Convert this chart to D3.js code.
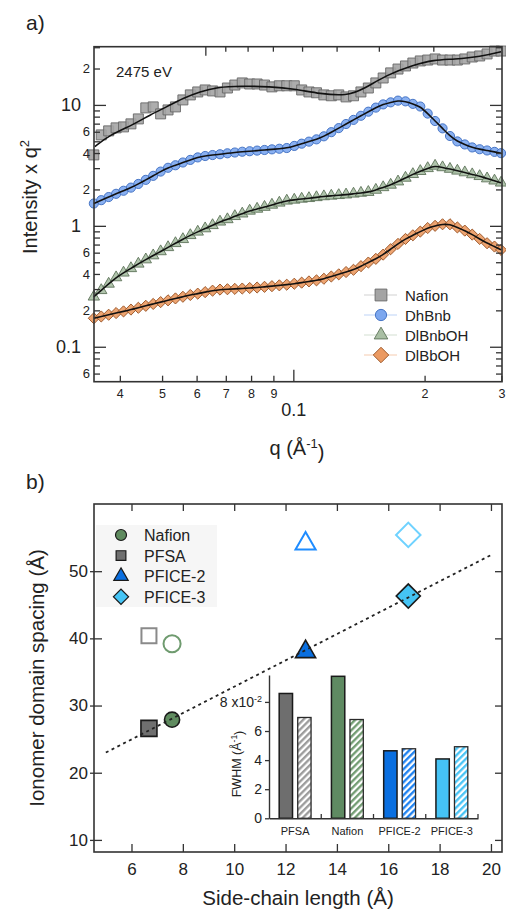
<!DOCTYPE html>
<html>
<head>
<meta charset="utf-8">
<script src="https://cdn.jsdelivr.net/npm/d3@7"></script>
<style>
body { margin: 0; background: #fff; }
svg text { font-family: "Liberation Sans", Arial, sans-serif; fill: #222; }
</style>
</head>
<body>
<svg id="chart" width="506" height="912"></svg>
<script>
// ---------- panel a data ----------
var qGrid = [0.03487,0.03626,0.03771,0.03922,0.04079,0.04242,0.04411,0.04588,0.04771,0.04962,
  0.05160,0.05366,0.05581,0.05804,0.06036,0.06277,0.06528,0.06789,0.07060,0.07342,
  0.07636,0.07941,0.08258,0.08588,0.08931,0.09288,0.09659,0.1005,0.1045,0.1086,
  0.1130,0.1175,0.1222,0.1271,0.1321,0.1374,0.1429,0.1486,0.1546,0.1607,
  0.1672,0.1738,0.1808,0.1880,0.1955,0.2033,0.2114,0.2199,0.2287,0.2378,
  0.2473,0.2572,0.2675,0.2782,0.2893,0.2995];
var nafionI = [3.86,5.65,6.10,6.46,6.58,6.97,7.66,9.45,9.63,8.43,
  9.09,9.63,11.0,12.1,12.8,13.3,13.05,12.8,13.8,14.6,
  15.2,14.9,14.9,14.6,14.1,14.4,14.4,14.4,13.3,12.8,
  12.6,12.1,11.9,12.1,11.65,11.9,12.8,13.8,15.2,16.7,
  18.4,19.8,21.0,22.2,23.1,23.5,24.0,23.5,23.5,23.5,
  24.0,24.9,25.4,26.4,27.9,27.9];
var dhbnbI = [1.53,1.63,1.73,1.84,1.95,2.07,2.22,2.40,2.59,2.81,
  3.02,3.17,3.34,3.51,3.68,3.78,3.85,3.91,3.98,4.04,
  4.10,4.14,4.19,4.24,4.29,4.34,4.40,4.58,4.78,4.97,
  5.19,5.50,5.95,6.43,6.95,7.52,8.13,8.79,9.50,10.1,
  10.5,10.85,10.7,10.2,9.70,8.48,7.36,6.40,5.53,4.99,
  4.71,4.45,4.30,4.20,4.09,3.99];
var dlbnbohI = [0.259,0.293,0.331,0.374,0.409,0.445,0.485,0.526,0.568,0.614,
  0.664,0.717,0.774,0.835,0.892,0.950,1.01,1.08,1.13,1.20,
  1.26,1.33,1.38,1.43,1.49,1.55,1.61,1.64,1.67,1.69,
  1.72,1.75,1.77,1.79,1.81,1.84,1.87,1.90,1.98,2.08,
  2.18,2.32,2.49,2.67,2.83,2.99,3.13,3.04,2.95,2.85,
  2.76,2.66,2.57,2.46,2.36,2.27];
var dlbbohI = [0.172,0.178,0.184,0.190,0.196,0.203,0.210,0.218,0.226,0.234,
  0.242,0.251,0.259,0.268,0.275,0.283,0.291,0.297,0.299,0.301,
  0.303,0.306,0.309,0.313,0.317,0.322,0.326,0.332,0.339,0.347,
  0.354,0.365,0.381,0.397,0.415,0.433,0.464,0.497,0.533,0.578,
  0.641,0.709,0.779,0.835,0.896,0.959,1.00,1.03,1.03,0.970,
  0.913,0.846,0.779,0.718,0.674,0.633];
// fitted curve drawn through the Nafion squares
var nafionFitQ = [0.03506,0.03796,0.04288,0.04691,0.05133,0.05587,0.06111,0.06687,0.07556,0.08854,
  0.1,0.1154,0.1324,0.1448,0.1636,0.1888,0.2098,0.2332,0.2691,0.2995];
var nafionFitI = [4.52,5.65,6.84,8.27,9.68,11.36,12.88,14.01,14.36,14.14,
  13.61,12.33,11.87,13.48,17.70,21.41,23.55,23.86,25.07,27.57];

var yTickVals = [0.06,0.07,0.08,0.09,0.2,0.3,0.4,0.5,0.6,0.7,0.8,0.9,2,3,4,5,6,7,8,9,20,30];
var yMajorVals = [0.1,1,10];
var yLabelVals = [0.06,0.1,0.2,0.4,0.6,1,2,4,6,10,20];
var yLabelText = ["6","0.1","2","4","6","1","2","4","6","10","2"];
var xTickVals = [0.04,0.05,0.06,0.07,0.08,0.09,0.2,0.3];
var xMajorVals = [0.1];
var xLabelVals = [0.04,0.05,0.06,0.07,0.08,0.09,0.1,0.2,0.3];
var xLabelText = ["4","5","6","7","8","9","0.1","2","3"];
var dSpacingTicks = [90,80,70,60,50,40,30];   // top axis, d = 2*pi/q (Å)
var dSpacingMajor = [100];

// ---------- panel b data ----------
var polymerNames = ["Nafion","PFSA","PFICE-2","PFICE-3"];
var sideChainLength = [7.58,6.68,12.78,16.78];
var spacingFilled = [27.9,26.6,38.0,46.3];
var spacingOpen = [39.2,40.4,54.1,55.4];
var fitX = [5,20];
var fitY = [23.0,52.4];
var xBTicks = [6,8,10,12,14,16,18,20];
var yBTicks = [10,20,30,40,50];
var insetCats = ["PFSA","Nafion","PFICE-2","PFICE-3"];
var fwhmSolid = [0.0858,0.0976,0.0464,0.0408];
var fwhmHatched = [0.0693,0.0679,0.0478,0.0492];
var fwhmTicks = [0,0.02,0.04,0.06,0.08];

// ---------- styles ----------
var FONT = '"Liberation Sans", Arial, sans-serif';
var ink = "#333";
var polymerStyle = {
  "Nafion":  {shape: d3.symbolCircle,   rot: 0,  fill: "#5f8b5f", open: "#6f9b6f", bar: "#5f8a62", hatch: "#6f9a6f"},
  "PFSA":    {shape: d3.symbolSquare,   rot: 0,  fill: "#6f6f6f", open: "#8a8a8a", bar: "#6e6e6e", hatch: "#9a9a9a"},
  "PFICE-2": {shape: d3.symbolTriangle, rot: 0,  fill: "#0a6fe0", open: "#1e8cff", bar: "#0a6fe0", hatch: "#1a7ff0"},
  "PFICE-3": {shape: d3.symbolSquare,   rot: 45, fill: "#45c4f5", open: "#6fd2ff", bar: "#45c3f5", hatch: "#45c3f5"}
};

var svg = d3.select("#chart");

function addAxis(parent, axis, tx, ty, fs, keepDomain) {
  var g = parent.append("g")
    .attr("transform", "translate(" + tx + "," + ty + ")")
    .call(axis)
    .attr("font-family", FONT)
    .attr("font-size", fs || 12);
  if (!keepDomain) g.select(".domain").remove();
  else g.select(".domain").attr("stroke", ink).attr("stroke-width", 1.4);
  g.selectAll(".tick line").attr("stroke", ink).attr("stroke-width", 1.3);
  g.selectAll(".tick text").attr("fill", "#222");
  return g;
}

// ================= panel a =================
var A = {l: 94, r: 502, t: 46.7, b: 381.7};
var xA = d3.scaleLog().domain([0.0349, 0.301]).range([A.l, A.r]);
var yA = d3.scaleLog().domain([0.0514, 30.3]).range([A.b, A.t]);
var gA = svg.append("g");

var seriesA = [
  {name: "Nafion",  values: nafionI,  shape: d3.symbolSquare,   size: 100, rot: 0,  fill: "#a4a4a4", stroke: "#686868", leg: 140},
  {name: "DhBnb",   values: dhbnbI,   shape: d3.symbolCircle,   size: 66,  rot: 0,  fill: "#7ca7ef", stroke: "#3c6cc0", leg: 100},
  {name: "DlBnbOH", values: dlbnbohI, shape: d3.symbolTriangle, size: 56,  rot: 0,  fill: "#a9bfa4", stroke: "#5e7359", leg: 80},
  {name: "DlBbOH",  values: dlbbohI,  shape: d3.symbolSquare,   size: 62,  rot: 45, fill: "#eb9a62", stroke: "#9a5527", leg: 120}
];

var lineA = d3.line().x(function(d){ return xA(d[0]); }).y(function(d){ return yA(d[1]); }).curve(d3.curveBasis);

seriesA.forEach(function(s) {
  gA.append("g").selectAll("path")
    .data(d3.zip(qGrid, s.values))
    .join("path")
    .attr("transform", function(d){ return "translate(" + xA(d[0]) + "," + yA(d[1]) + ") rotate(" + s.rot + ")"; })
    .attr("d", d3.symbol(s.shape, s.size))
    .attr("fill", s.fill)
    .attr("fill-opacity", 0.9)
    .attr("stroke", s.stroke)
    .attr("stroke-width", 0.9);
  var fit = s.name === "Nafion" ? d3.zip(nafionFitQ, nafionFitI) : d3.zip(qGrid, s.values);
  gA.append("path")
    .attr("d", lineA(fit))
    .attr("fill", "none")
    .attr("stroke", "#111")
    .attr("stroke-width", 1.6);
});

// ticks, all pointing inward
addAxis(gA, d3.axisLeft(yA).tickValues(yTickVals).tickSize(-6).tickFormat(""), A.l, 0);
addAxis(gA, d3.axisLeft(yA).tickValues(yMajorVals).tickSize(-12).tickFormat(""), A.l, 0);
addAxis(gA, d3.axisRight(yA).tickValues(yTickVals).tickSize(-6).tickFormat(""), A.r, 0);
addAxis(gA, d3.axisRight(yA).tickValues(yMajorVals).tickSize(-12).tickFormat(""), A.r, 0);
var yLab = addAxis(gA, d3.axisLeft(yA).tickValues(yLabelVals).tickSize(0).tickPadding(4)
  .tickFormat(function(d, i){ return yLabelText[i]; }), A.l, 0);
yLab.selectAll(".tick text").each(function(d) {
  var big = yMajorVals.indexOf(d) >= 0;
  d3.select(this).attr("font-size", big ? 18 : 13).attr("x", big ? -13 : -4);
});

addAxis(gA, d3.axisBottom(xA).tickValues(xTickVals).tickSize(-6).tickFormat(""), 0, A.b);
addAxis(gA, d3.axisBottom(xA).tickValues(xMajorVals).tickSize(-12).tickFormat(""), 0, A.b);
var xLab = addAxis(gA, d3.axisBottom(xA).tickValues(xLabelVals).tickSize(0).tickPadding(7)
  .tickFormat(function(d, i){ return xLabelText[i]; }), 0, A.b, 12.5);
xLab.selectAll(".tick text").each(function(d) {
  if (xMajorVals.indexOf(d) >= 0) d3.select(this).attr("font-size", 18).attr("y", 22);
});

addAxis(gA, d3.axisTop(xA).tickValues(dSpacingTicks.map(function(d){ return 2 * Math.PI / d; })).tickSize(-5).tickFormat(""), 0, A.t);
addAxis(gA, d3.axisTop(xA).tickValues(dSpacingMajor.map(function(d){ return 2 * Math.PI / d; })).tickSize(-9).tickFormat(""), 0, A.t);

gA.append("rect")
  .attr("x", A.l).attr("y", A.t)
  .attr("width", A.r - A.l).attr("height", A.b - A.t)
  .attr("fill", "none").attr("stroke", ink).attr("stroke-width", 1.6);

gA.append("text").attr("x", 116).attr("y", 77).attr("font-size", 15).text("2475 eV");

// legend a
var legA = gA.append("g");
seriesA.forEach(function(s, i) {
  var y = 295 + i * 20;
  legA.append("line").attr("x1", 364).attr("x2", 397).attr("y1", y).attr("y2", y)
    .attr("stroke", s.fill).attr("stroke-opacity", 0.5).attr("stroke-width", 1);
  legA.append("path")
    .attr("transform", "translate(381," + y + ") rotate(" + s.rot + ")")
    .attr("d", d3.symbol(s.shape, s.leg))
    .attr("fill", s.fill).attr("stroke", s.stroke).attr("stroke-width", 0.9);
  legA.append("text").attr("x", 405).attr("y", y + 5.5).attr("font-size", 15).attr("fill", "#333").text(s.name);
});

svg.append("text").attr("x", 26).attr("y", 30).attr("font-size", 21).attr("font-family", '"Open Sans", sans-serif').text("a)");

svg.append("text")
  .attr("transform", "translate(36.5,197) rotate(-90)")
  .attr("text-anchor", "middle").attr("font-size", 20)
  .text("Intensity x q")
  .append("tspan").attr("dy", "-0.55em").attr("font-size", 13).text("2");

var qTitle = svg.append("text").attr("x", 297).attr("y", 455).attr("text-anchor", "middle").attr("font-size", 20);
qTitle.append("tspan").text("q (Å");
qTitle.append("tspan").attr("dy", "-0.55em").attr("font-size", 13).text("-1");
qTitle.append("tspan").attr("dy", "0.55em").text(")");

// ================= panel b =================
var B = {l: 94, r: 502, t: 504, b: 852};
var xB = d3.scaleLinear().domain([4.54, 20.43]).range([B.l, B.r]);
var yB = d3.scaleLinear().domain([8.2, 60]).range([B.b, B.t]);
var gB = svg.append("g");

gB.append("rect").attr("x", 96).attr("y", 525).attr("width", 121).attr("height", 82).attr("fill", "#f6f6f6");

addAxis(gB, d3.axisBottom(xB).tickValues(xBTicks).tickSize(-8).tickPadding(11).tickFormat(d3.format("d")), 0, B.b, 17);
addAxis(gB, d3.axisTop(xB).tickValues(xBTicks).tickSize(-7).tickFormat(""), 0, B.t);
addAxis(gB, d3.axisLeft(yB).tickValues(yBTicks).tickSize(4).tickPadding(2).tickFormat(d3.format("d")), B.l, 0, 17);
addAxis(gB, d3.axisLeft(yB).tickValues(yBTicks).tickSize(-8).tickFormat(""), B.l, 0);
addAxis(gB, d3.axisRight(yB).tickValues(yBTicks).tickSize(-7).tickFormat(""), B.r, 0);

gB.append("rect")
  .attr("x", B.l).attr("y", B.t)
  .attr("width", B.r - B.l).attr("height", B.b - B.t)
  .attr("fill", "none").attr("stroke", ink).attr("stroke-width", 1.6);

var sizeFilled = {"Nafion": 180, "PFSA": 256, "PFICE-2": 175, "PFICE-3": 290};
var sizeOpen = {"Nafion": 230, "PFSA": 225, "PFICE-2": 175, "PFICE-3": 300};
var sizeLeg = {"Nafion": 95, "PFSA": 95, "PFICE-2": 90, "PFICE-3": 115};

// open markers
gB.append("g").selectAll("path")
  .data(polymerNames)
  .join("path")
  .attr("transform", function(d, i){ return "translate(" + xB(sideChainLength[i]) + "," + yB(spacingOpen[i]) + ") rotate(" + polymerStyle[d].rot + ")"; })
  .attr("d", function(d){ return d3.symbol(polymerStyle[d].shape, sizeOpen[d])(); })
  .attr("fill", "none")
  .attr("stroke", function(d){ return polymerStyle[d].open; })
  .attr("stroke-width", 2);

// filled markers
gB.append("g").selectAll("path")
  .data(polymerNames)
  .join("path")
  .attr("transform", function(d, i){ return "translate(" + xB(sideChainLength[i]) + "," + yB(spacingFilled[i]) + ") rotate(" + polymerStyle[d].rot + ")"; })
  .attr("d", function(d){ return d3.symbol(polymerStyle[d].shape, sizeFilled[d])(); })
  .attr("fill", function(d){ return polymerStyle[d].fill; })
  .attr("stroke", "#1a1a1a")
  .attr("stroke-width", 1.6);

// linear fit, dotted
gB.append("path")
  .attr("d", d3.line().x(function(d){ return xB(d[0]); }).y(function(d){ return yB(d[1]); })(d3.zip(fitX, fitY)))
  .attr("fill", "none").attr("stroke", "#222").attr("stroke-width", 1.8).attr("stroke-dasharray", "3,3.5");

// legend b
polymerNames.forEach(function(d, i) {
  var y = 535 + i * 20.6;
  gB.append("path")
    .attr("transform", "translate(121," + y + ") rotate(" + polymerStyle[d].rot + ")")
    .attr("d", d3.symbol(polymerStyle[d].shape, sizeLeg[d]))
    .attr("fill", polymerStyle[d].fill).attr("stroke", "#1a1a1a").attr("stroke-width", 1.2);
  gB.append("text").attr("x", 144).attr("y", y + 6).attr("font-size", 16).text(d);
});

svg.append("text").attr("x", 26).attr("y", 489).attr("font-size", 21).attr("font-family", '"Open Sans", sans-serif').text("b)");

svg.append("text")
  .attr("transform", "translate(44,678) rotate(-90)")
  .attr("text-anchor", "middle").attr("font-size", 20.5)
  .text("Ionomer domain spacing (Å)");
svg.append("text").attr("x", 298).attr("y", 905).attr("text-anchor", "middle").attr("font-size", 20.5)
  .text("Side-chain length (Å)");

// ---------- inset: FWHM bars ----------
var gI = svg.append("g");
var defs = svg.append("defs");
insetCats.forEach(function(c, i) {
  var p = defs.append("pattern").attr("id", "hatch" + i)
    .attr("patternUnits", "userSpaceOnUse").attr("width", 4.6).attr("height", 4.6)
    .attr("patternTransform", "rotate(45)");
  p.append("rect").attr("width", 4.6).attr("height", 4.6).attr("fill", "#fff");
  p.append("line").attr("x1", 1.2).attr("x2", 1.2).attr("y1", 0).attr("y2", 4.6)
    .attr("stroke", polymerStyle[c].hatch).attr("stroke-width", 2.3);
});

var xI = d3.scaleBand().domain(insetCats).range([269, 478]);
var xSub = d3.scaleBand().domain(["solid", "hatched"]).range([0, xI.bandwidth()]).paddingInner(0.28).paddingOuter(0.55);
var yI = d3.scaleLinear().domain([0, 0.0985]).range([818.3, 675]);

gI.append("g").selectAll("rect")
  .data(insetCats)
  .join("rect")
  .attr("x", function(c){ return xI(c) + xSub("solid"); })
  .attr("y", function(c, i){ return yI(fwhmSolid[i]); })
  .attr("width", xSub.bandwidth())
  .attr("height", function(c, i){ return yI(0) - yI(fwhmSolid[i]); })
  .attr("fill", function(c){ return polymerStyle[c].bar; })
  .attr("stroke", "#1a1a1a").attr("stroke-width", 1.5);

gI.append("g").selectAll("rect")
  .data(insetCats)
  .join("rect")
  .attr("x", function(c){ return xI(c) + xSub("hatched"); })
  .attr("y", function(c, i){ return yI(fwhmHatched[i]); })
  .attr("width", xSub.bandwidth())
  .attr("height", function(c, i){ return yI(0) - yI(fwhmHatched[i]); })
  .attr("fill", function(c, i){ return "url(#hatch" + i + ")"; })
  .attr("stroke", "#2a2a2a").attr("stroke-width", 1.3);

var yIax = addAxis(gI, d3.axisLeft(yI).tickValues(fwhmTicks).tickSize(4).tickSizeOuter(0).tickPadding(3)
  .tickFormat(function(d){ return d3.format("d")(d * 100); }), 269, 0, 14, true);
yIax.selectAll(".tick text").filter(function(d){ return d === 0.08; })
  .text("8 x10")
  .append("tspan").attr("dy", "-0.5em").attr("font-size", 9).text("-2");

var xIax = addAxis(gI, d3.axisBottom(xI).tickSize(0).tickSizeOuter(0).tickPadding(9), 0, 818.3, 11, true);
xIax.selectAll(".tick text").attr("fill", "#444");
gI.append("g").selectAll("line")
  .data(insetCats)
  .join("line")
  .attr("x1", function(c){ return xI(c) + xI.step(); })
  .attr("x2", function(c){ return xI(c) + xI.step(); })
  .attr("y1", 818.3).attr("y2", 814)
  .attr("stroke", ink).attr("stroke-width", 1.3);

var fw = svg.append("text")
  .attr("transform", "translate(241,764) rotate(-90)")
  .attr("text-anchor", "middle").attr("font-size", 12.5);
fw.append("tspan").text("FWHM (Å");
fw.append("tspan").attr("dy", "-0.5em").attr("font-size", 8.5).text("-1");
fw.append("tspan").attr("dy", "0.5em").text(")");
</script>
</body>
</html>
